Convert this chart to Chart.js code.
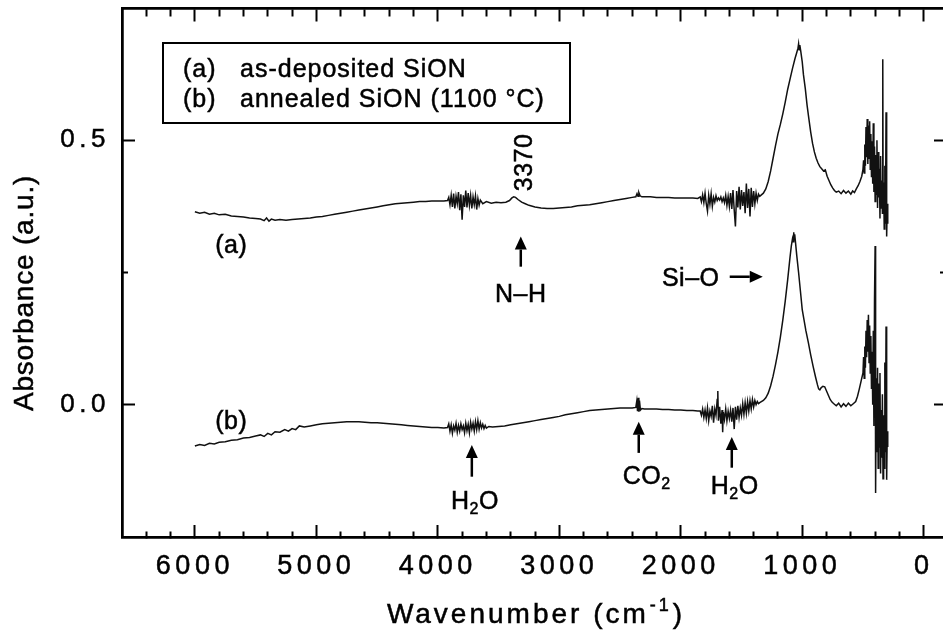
<!DOCTYPE html>
<html>
<head>
<meta charset="UTF-8">
<script src="https://cdn.jsdelivr.net/npm/chart.js"></script>
<title>FTIR SiON</title>
<style>
  html, body { margin: 0; padding: 0; background: #fff; overflow: hidden; }
  canvas { display: block; }
</style>
</head>
<body>
<canvas id="ftir" width="960" height="642"></canvas>
<script>
// (a) as-deposited
const waveA = [6000,5960,5920,5880,5840,5800,5750,5700,5650,5600,5550,5500,5460,5430,5410,5390,5370,5340,5300,5250,5200,5150,5100,5050,5000,4950,4900,4850,4800,4750,4700,4650,4600,4550,4500,4450,4400,4350,4300,4250,4200,4150,4100,4050,4000,3950,3920,
  3910,3900,3890,3880,3870,3860,3850,3840,3830,3820,3810,3800,3790,3780,3770,3760,3750,3740,3730,3720,3710,3700,3690,3680,3670,3660,3650,3630,3600,3560,3520,3480,3440,
  3410,3390,3375,3360,3340,3310,3280,3250,3200,3150,3100,3050,3000,2950,2900,2850,2800,2750,2700,2650,2600,2550,2500,2450,2400,2370,2360,2352,2345,2335,2320,2300,2250,2200,2150,2100,2050,2000,1950,1900,1860,
  1840,1830,1820,1810,1800,1790,1780,1770,1760,1750,1740,1730,1720,1710,1700,1690,1680,1670,1660,1650,1640,1630,1620,1610,1600,1590,1580,1570,1560,1550,1540,1530,1520,1510,1500,1490,1480,1470,1460,1450,1440,1430,1420,1410,1400,1390,1380,1370,1360,1350,
  1320,1300,1280,1260,1240,1220,1200,1180,1160,1140,1120,1100,1080,1060,1045,1035,1030,1025,1020,1012,1000,990,975,960,945,930,915,900,885,870,855,840,825,810,795,780,765,750,735,720,700,680,660,640,620,600,585,570,555,540,525,510,
  500,495,490,485,480,475,470,465,460,455,450,445,440,435,430,425,420,415,410,405,400,395,390,385,380,375,370,365,360,355,350,345,340,337,334,330,325,320,315,310,305,300,296];
const absA = [0.365,0.362,0.364,0.360,0.362,0.359,0.360,0.357,0.356,0.355,0.353,0.352,0.351,0.348,0.353,0.347,0.351,0.349,0.350,0.349,0.350,0.351,0.352,0.353,0.355,0.356,0.358,0.360,0.362,0.364,0.366,0.368,0.370,0.372,0.374,0.376,0.378,0.380,0.381,0.382,0.383,0.384,0.384,0.385,0.385,0.385,0.386,
  0.392,0.378,0.396,0.374,0.399,0.371,0.394,0.380,0.402,0.368,0.398,0.350,0.396,0.374,0.405,0.373,0.400,0.377,0.396,0.371,0.393,0.378,0.395,0.369,0.390,0.377,0.387,0.380,0.384,0.381,0.383,0.382,0.383,
  0.386,0.391,0.393,0.392,0.388,0.383,0.380,0.377,0.374,0.372,0.371,0.371,0.372,0.373,0.374,0.376,0.377,0.378,0.380,0.382,0.384,0.386,0.388,0.390,0.392,0.393,0.399,0.394,0.401,0.395,0.393,0.393,0.393,0.392,0.392,0.392,0.391,0.391,0.391,0.391,0.390,
  0.393,0.384,0.397,0.382,0.400,0.380,0.366,0.396,0.379,0.399,0.375,0.392,0.383,0.395,0.386,0.391,0.387,0.393,0.384,0.391,0.382,0.396,0.377,0.394,0.375,0.400,0.370,0.406,0.368,0.337,0.404,0.373,0.412,0.369,0.406,0.376,0.402,0.362,0.418,0.372,0.408,0.356,0.410,0.374,0.404,0.380,0.400,0.386,0.398,0.394,
  0.400,0.408,0.422,0.442,0.466,0.490,0.512,0.530,0.550,0.572,0.596,0.616,0.636,0.654,0.666,0.674,0.682,0.671,0.680,0.668,0.648,0.624,0.598,0.566,0.540,0.515,0.494,0.478,0.466,0.457,0.450,0.446,0.442,0.444,0.432,0.424,0.416,0.410,0.405,0.402,0.404,0.399,0.405,0.400,0.404,0.398,0.404,0.401,0.408,0.414,0.422,0.432,
  0.445,0.462,0.438,0.492,0.452,0.525,0.468,0.540,0.455,0.528,0.466,0.536,0.445,0.512,0.430,0.498,0.418,0.532,0.402,0.488,0.384,0.472,0.398,0.500,0.372,0.478,0.392,0.446,0.352,0.470,0.372,0.424,0.362,0.653,0.382,0.420,0.332,0.452,0.342,0.553,0.318,0.380,0.342];

// (b) annealed 1100 °C
const waveB = [6000,5960,5920,5880,5840,5800,5750,5700,5650,5600,5550,5500,5460,5430,5400,5370,5340,5300,5260,5230,5200,5170,5140,5100,5050,5000,4950,4900,4850,4800,4750,4700,4650,4600,4550,4500,4450,4400,4350,4300,4250,4200,4150,4100,4050,4000,3950,3920,
  3910,3900,3890,3880,3870,3860,3850,3840,3830,3820,3810,3800,3790,3780,3770,3760,3750,3740,3730,3720,3710,3700,3690,3680,3670,3660,3650,3640,3630,3620,3610,3600,3580,3550,
  3500,3450,3400,3350,3300,3250,3200,3150,3100,3050,3000,2950,2900,2850,2800,2750,2700,2650,2600,2550,2500,2450,2400,2370,2362,2356,2350,2345,2340,2332,2320,2300,2250,2200,2150,2100,2050,2000,1950,1900,1860,
  1840,1830,1820,1810,1800,1790,1780,1770,1760,1750,1740,1730,1720,1710,1700,1695,1690,1680,1670,1660,1655,1650,1640,1630,1620,1610,1600,1590,1580,1570,1560,1550,1540,1530,1520,1510,1500,1490,1480,1470,1460,1450,1440,1430,1420,1410,1400,1390,1380,1370,1360,1350,
  1320,1300,1280,1260,1240,1220,1200,1180,1160,1140,1120,1100,1090,1080,1075,1070,1066,1062,1055,1045,1030,1015,1000,985,970,950,930,910,890,875,865,855,845,830,815,800,785,770,755,740,720,700,680,660,640,620,600,580,560,545,530,515,
  500,495,490,485,480,475,470,465,460,455,450,445,440,435,430,425,420,415,410,405,400,396,390,385,380,375,370,365,360,355,350,345,340,335,330,325,320,315,310,305,300,296];
const absB = [-0.078,-0.075,-0.077,-0.073,-0.074,-0.071,-0.070,-0.067,-0.066,-0.063,-0.062,-0.059,-0.057,-0.060,-0.054,-0.057,-0.051,-0.052,-0.047,-0.050,-0.045,-0.047,-0.040,-0.042,-0.040,-0.038,-0.036,-0.035,-0.034,-0.033,-0.032,-0.032,-0.032,-0.033,-0.034,-0.034,-0.035,-0.036,-0.037,-0.038,-0.039,-0.040,-0.041,-0.042,-0.043,-0.043,-0.044,-0.043,
  -0.036,-0.050,-0.038,-0.054,-0.040,-0.048,-0.035,-0.052,-0.039,-0.050,-0.036,-0.047,-0.040,-0.053,-0.035,-0.049,-0.037,-0.053,-0.033,-0.046,-0.035,-0.050,-0.032,-0.047,-0.030,-0.046,-0.034,-0.044,-0.037,-0.045,-0.039,-0.044,-0.041,-0.042,
  -0.041,-0.040,-0.038,-0.036,-0.034,-0.032,-0.030,-0.028,-0.026,-0.024,-0.022,-0.019,-0.017,-0.015,-0.013,-0.011,-0.010,-0.009,-0.008,-0.007,-0.006,-0.006,-0.006,-0.005,0.007,-0.012,0.013,-0.013,0.008,-0.010,-0.007,-0.008,-0.008,-0.008,-0.009,-0.009,-0.010,-0.010,-0.011,-0.011,-0.012,
  -0.012,-0.020,-0.008,-0.024,-0.010,-0.026,-0.006,-0.030,-0.012,-0.022,-0.002,-0.034,-0.008,-0.020,0.010,0.026,-0.030,-0.004,-0.036,-0.010,-0.052,-0.014,-0.028,-0.008,-0.030,-0.012,-0.026,-0.010,-0.032,-0.006,-0.046,-0.004,-0.028,-0.002,-0.024,-0.006,-0.020,0.002,-0.018,0.004,-0.016,0.006,-0.012,0.008,-0.008,0.010,-0.004,0.008,0.000,0.006,0.002,0.004,
  0.008,0.013,0.022,0.036,0.054,0.076,0.100,0.128,0.160,0.196,0.236,0.280,0.300,0.314,0.308,0.326,0.312,0.322,0.306,0.282,0.250,0.215,0.180,0.160,0.140,0.118,0.094,0.072,0.052,0.038,0.030,0.028,0.032,0.035,0.034,0.026,0.018,0.010,0.005,0.002,-0.002,0.003,-0.004,0.002,-0.003,0.003,-0.002,0.002,0.006,0.016,0.030,0.045,
  0.060,0.090,0.050,0.110,0.070,0.140,0.090,0.160,0.100,0.170,0.080,0.150,0.060,0.130,0.030,0.100,0.000,0.140,-0.040,0.200,0.300,-0.167,0.050,-0.090,0.070,-0.120,0.040,-0.080,0.060,-0.130,-0.010,-0.100,0.020,-0.140,-0.020,-0.120,0.080,-0.090,0.148,-0.142,-0.050,-0.080];

const seriesTags = ['(a)', '(b)'];
const seriesNames = ['as-deposited SiON', 'annealed SiON (1100 °C)'];

// tick positions
const xMajor = [6000, 5000, 4000, 3000, 2000, 1000, 0];
const xMinor = [6400, 6200, 5800, 5600, 5400, 5200, 4800, 4600, 4400, 4200, 3800, 3600, 3400, 3200, 2800, 2600, 2400, 2200, 1800, 1600, 1400, 1200, 800, 600, 400, 200];
const yMajor = [0.0, 0.5];
const yMinor = [0.25];

// peak annotations (data coordinates)
const noteLabels = ['(a)', '(b)', '3370', 'N–H', 'Si–O', 'H_2O', 'CO_2', 'H_2O'];
const noteWave = [5700, 5700, 3300, 3317, 1918, 3695, 2280, 1556];
const noteAbs = [0.303, -0.028, 0.458, 0.212, 0.242, -0.180, -0.133, -0.152];
const noteTurn = [0, 0, -90, 0, 0, 0, 0, 0];
const arrowFromWave = [3317, 1597, 3720, 2346, 1580];
const arrowFromAbs = [0.261, 0.242, -0.136, -0.091, -0.119];
const arrowToWave = [3317, 1325, 3720, 2346, 1580];
const arrowToAbs = [0.318, 0.242, -0.076, -0.032, -0.061];

const FONT = "'Liberation Sans', Arial, sans-serif";
const X_MIN = -200, X_MAX = 6600, Y_MIN = -0.25, Y_MAX = 0.75;
const INK = 0.5; // scanned text looks a bit heavier than the plain face

function toPoints(xs, ys) {
  return xs.map((x, i) => ({ x: x, y: ys[i] }));
}

function fixedTicks(values) {
  return scale => { scale.ticks = values.map(v => ({ value: v })); };
}

// keep the plot frame where it is in the figure
function noPad(scale) {
  scale.paddingTop = 0; scale.paddingBottom = 0;
  scale.paddingLeft = 0; scale.paddingRight = 0;
}

// unlabeled tick rows for the other sides of the frame
function tickRow(axis, at, values, len) {
  const horiz = axis === 'x';
  return {
    type: 'linear', axis: axis, position: at,
    min: horiz ? X_MIN : Y_MIN, max: horiz ? X_MAX : Y_MAX, reverse: horiz,
    afterBuildTicks: fixedTicks(values),
    afterFit: noPad,
    ticks: { display: false },
    grid: { drawOnChartArea: false, tickLength: len, tickWidth: 2, tickColor: '#000' },
    border: { display: true, color: '#000', width: 2.5 }
  };
}

function splitParts(str) {
  const parts = [];
  for (let i = 0; i < str.length; i++) {
    if (str[i] === '_') { parts.push({ t: str[i + 1], sub: true }); i++; }
    else if (parts.length && !parts[parts.length - 1].sub) parts[parts.length - 1].t += str[i];
    else parts.push({ t: str[i], sub: false });
  }
  return parts;
}

function inkText(ctx, txt, x, y) {
  ctx.fillText(txt, x, y);
  ctx.strokeText(txt, x, y);
}

function drawRich(ctx, str, x, y, size, turn) {
  const parts = splitParts(str);
  const subSize = Math.round(size * 0.62);
  let total = 0;
  parts.forEach(p => {
    ctx.font = (p.sub ? subSize : size) + 'px ' + FONT;
    p.w = ctx.measureText(p.t).width;
    total += p.w;
  });
  ctx.save();
  ctx.translate(x, y);
  if (turn) ctx.rotate(turn * Math.PI / 180);
  ctx.textAlign = 'left';
  ctx.textBaseline = 'alphabetic';
  let cx = -total / 2;
  const base = size * 0.358;
  parts.forEach(p => {
    ctx.font = (p.sub ? subSize : size) + 'px ' + FONT;
    inkText(ctx, p.t, cx, p.sub ? base + size * 0.2 : base);
    cx += p.w;
  });
  ctx.restore();
}

function drawArrow(ctx, x1, y1, x2, y2) {
  const ang = Math.atan2(y2 - y1, x2 - x1);
  const head = 13, half = 6;
  const bx = x2 - head * Math.cos(ang), by = y2 - head * Math.sin(ang);
  ctx.beginPath();
  ctx.lineWidth = 2.5;
  ctx.moveTo(x1, y1);
  ctx.lineTo(bx, by);
  ctx.stroke();
  ctx.beginPath();
  ctx.moveTo(x2, y2);
  ctx.lineTo(bx + half * Math.sin(ang), by - half * Math.cos(ang));
  ctx.lineTo(bx - half * Math.sin(ang), by + half * Math.cos(ang));
  ctx.closePath();
  ctx.fill();
}

const decor = {
  id: 'decor',
  beforeDraw(chart) { chart.ctx.letterSpacing = '4.5px'; },
  beforeDatasetsDraw(chart) { chart.ctx.letterSpacing = '0px'; },
  afterDraw(chart) {
    const ctx = chart.ctx, xs = chart.scales.x, ys = chart.scales.y, area = chart.chartArea;
    ctx.save();
    ctx.fillStyle = '#000';
    ctx.strokeStyle = '#000';

    // legend box
    ctx.lineWidth = 2;
    ctx.strokeRect(163, 43, 407, 80);
    ctx.lineWidth = INK;
    ctx.letterSpacing = '1px';
    ctx.font = '25px ' + FONT;
    ctx.textBaseline = 'alphabetic';
    ctx.textAlign = 'left';
    seriesTags.forEach((tag, i) => {
      inkText(ctx, tag, 183, 77 + i * 30);
      inkText(ctx, seriesNames[i], 240, 77 + i * 30);
    });

    // annotations
    ctx.letterSpacing = '0.5px';
    noteLabels.forEach((txt, i) => {
      ctx.lineWidth = INK;
      drawRich(ctx, txt, xs.getPixelForValue(noteWave[i]), ys.getPixelForValue(noteAbs[i]), 25, noteTurn[i]);
    });
    arrowFromWave.forEach((w, i) => {
      drawArrow(ctx, xs.getPixelForValue(w), ys.getPixelForValue(arrowFromAbs[i]),
        xs.getPixelForValue(arrowToWave[i]), ys.getPixelForValue(arrowToAbs[i]));
    });

    // x title with superscript
    ctx.lineWidth = INK;
    ctx.letterSpacing = '3px';
    ctx.font = '28px ' + FONT;
    const t1 = 'Wavenumber (cm', t3 = ')';
    const w1 = ctx.measureText(t1).width, w3 = ctx.measureText(t3).width;
    ctx.font = '18px ' + FONT;
    const t2 = '-1';
    const w2 = ctx.measureText(t2).width;
    let tx = (area.left + area.right) / 2 - (w1 + w2 + w3) / 2;
    ctx.font = '28px ' + FONT;
    inkText(ctx, t1, tx, 623);
    ctx.font = '18px ' + FONT;
    inkText(ctx, t2, tx + w1 + 1, 611);
    ctx.font = '28px ' + FONT;
    inkText(ctx, t3, tx + w1 + w2 + 2, 623);

    // y title
    ctx.letterSpacing = '0.8px';
    ctx.font = '28px ' + FONT;
    ctx.translate(33, 293);
    ctx.rotate(-Math.PI / 2);
    ctx.textAlign = 'center';
    inkText(ctx, 'Absorbance (a.u.)', 0, 0);
    ctx.restore();
    ctx.letterSpacing = '0px';
  }
};

new Chart(document.getElementById('ftir').getContext('2d'), {
  type: 'line',
  data: {
    datasets: [
      { label: seriesTags[0] + ' ' + seriesNames[0], data: toPoints(waveA, absA), borderColor: '#111', borderWidth: 1.5, pointRadius: 0, tension: 0 },
      { label: seriesTags[1] + ' ' + seriesNames[1], data: toPoints(waveB, absB), borderColor: '#111', borderWidth: 1.5, pointRadius: 0, tension: 0 }
    ]
  },
  options: {
    responsive: false,
    animation: false,
    parsing: false,
    normalized: true,
    layout: { padding: { top: 8, right: 12, left: 0, bottom: 0 } },
    plugins: { legend: { display: false }, tooltip: { enabled: false } },
    scales: {
      x: {
        type: 'linear', position: 'bottom', min: X_MIN, max: X_MAX, reverse: true,
        afterBuildTicks: fixedTicks(xMajor),
        afterFit: s => { s.height = 105; noPad(s); },
        ticks: { color: '#000', textStrokeColor: '#000', textStrokeWidth: INK, font: { family: FONT, size: 27 }, padding: 25, autoSkip: false, maxRotation: 0, callback: v => String(v) },
        grid: { drawOnChartArea: false, tickLength: -12, tickWidth: 2, tickColor: '#000' },
        border: { color: '#000', width: 2.5 }
      },
      y: {
        type: 'linear', position: 'left', min: Y_MIN, max: Y_MAX,
        afterBuildTicks: fixedTicks(yMajor),
        afterFit: s => { s.width = 122; noPad(s); },
        ticks: { color: '#000', textStrokeColor: '#000', textStrokeWidth: INK, font: { family: FONT, size: 26 }, padding: 25, callback: v => v.toFixed(1) },
        grid: { drawOnChartArea: false, tickLength: -13, tickWidth: 2, tickColor: '#000' },
        border: { color: '#000', width: 2.5 }
      },
      xMinorB: tickRow('x', { y: Y_MIN }, xMinor, -7),
      xTop: tickRow('x', { y: Y_MAX }, xMajor, 12),
      xMinorT: tickRow('x', { y: Y_MAX }, xMinor, 7),
      yMinorL: tickRow('y', { x: X_MAX }, yMinor, -7),
      yRight: tickRow('y', { x: X_MIN }, yMajor, 13),
      yMinorR: tickRow('y', { x: X_MIN }, yMinor, 7)
    }
  },
  plugins: [decor]
});
</script>
</body>
</html>
